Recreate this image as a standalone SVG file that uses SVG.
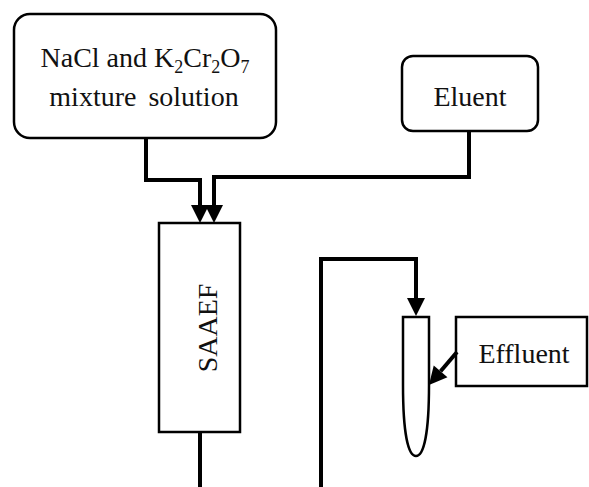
<svg xmlns="http://www.w3.org/2000/svg" width="589" height="487" viewBox="0 0 589 487">
<style>
.box{fill:#fff;stroke:#000;stroke-width:2.5}
.lbl{font-family:"Liberation Serif","Times New Roman",serif;font-size:28px;fill:#111;text-anchor:middle}
.conn{fill:none;stroke:#000;stroke-width:4}
</style>
<defs>
<marker id="ah" markerUnits="userSpaceOnUse" markerWidth="20" markerHeight="20" refX="0" refY="9" orient="auto" overflow="visible">
<path d="M0,0 L18,9 L0,18 Z" fill="#000"/>
</marker>
</defs>
<rect width="589" height="487" fill="#fff"/>
<g id="mixture">
<rect class="box" x="14" y="14" width="262" height="124" rx="16"/>
<text class="lbl" x="145" y="67">NaCl and K<tspan font-size="18" dy="6">2</tspan><tspan dy="-6">Cr</tspan><tspan font-size="18" dy="6">2</tspan><tspan dy="-6">O</tspan><tspan font-size="18" dy="6">7</tspan></text>
<text class="lbl" x="144" y="106" word-spacing="5">mixture solution</text>
</g>
<g id="eluent">
<rect class="box" x="402" y="56" width="136" height="75" rx="11"/>
<text class="lbl" x="470" y="106">Eluent</text>
</g>
<g id="saaef">
<rect class="box" x="159" y="223" width="81" height="209"/>
<text class="lbl" transform="translate(217,328) rotate(-90)">SAAEF</text>
</g>
<g id="tube">
<path class="box" d="M403,317 H429 V385 C429,432 424,456 416,456 C408,456 403,432 403,385 Z"/>
</g>
<g id="effluent">
<rect class="box" x="456" y="317" width="131" height="69"/>
<text class="lbl" x="524" y="363">Effluent</text>
</g>
<g id="connectors">
<path class="conn" d="M146,138 V180 H200 V205" marker-end="url(#ah)"/>
<path class="conn" d="M469,131 V177 H214 V205" marker-end="url(#ah)"/>
<path class="conn" d="M200,432 V487"/>
<path class="conn" d="M321,487 V259 H416 V298" marker-end="url(#ah)"/>
<path class="conn" d="M457,352 L440.6,371.3" marker-end="url(#ah)"/>
</g>
</svg>
